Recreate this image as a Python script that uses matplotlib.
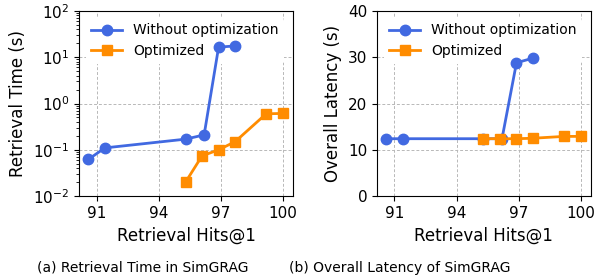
import matplotlib.pyplot as plt

# Retrieval Hits@1 values
hits_base = [90.6, 91.4, 95.3, 96.2, 96.9, 97.7]
hits_opt = [95.3, 96.1, 96.9, 97.7, 99.2, 100.0]

# (a) retrieval time in seconds
ret_base = [0.062, 0.11, 0.17, 0.21, 16.5, 17.5]
ret_opt = [0.020, 0.074, 0.10, 0.15, 0.60, 0.61]

# (b) overall latency in seconds
lat_base = [12.4, 12.4, 12.4, 12.4, 28.8, 29.8]
lat_opt = [12.4, 12.4, 12.4, 12.5, 12.9, 12.9]

xticks = [91, 94, 97, 100]
blue = '#4169E1'
orange = '#FF8C00'

fig = plt.figure(figsize=(6.03, 2.79), dpi=100)
ax1 = fig.add_axes([0.131, 0.297, 0.355, 0.664])
ax2 = fig.add_axes([0.625, 0.297, 0.355, 0.664])

for ax, yb, yo in [(ax1, ret_base, ret_opt), (ax2, lat_base, lat_opt)]:
    ax.plot(hits_base, yb, '-o', color=blue, lw=2, ms=7.5, label='Without optimization')
    ax.plot(hits_opt, yo, '-s', color=orange, lw=2, ms=7.5, label='Optimized')
    ax.set_xlim(90.15, 100.5)
    ax.set_xticks(xticks)
    ax.grid(True, ls=(0, (3, 2)), color='#b8b8b8', lw=0.7)
    ax.tick_params(labelsize=11)
    ax.set_xlabel('Retrieval Hits@1', fontsize=12)
    leg = ax.legend(loc='upper left', fontsize=10, frameon=True, framealpha=1,
                    edgecolor='none', handlelength=2.2)
    leg.set_zorder(1.8)  # above grid, below the lines

ax1.set_yscale('log')
ax1.set_ylim(0.01, 100)
ax1.set_ylabel('Retrieval Time (s)', fontsize=12)

ax2.set_ylim(0, 40)
ax2.set_yticks([0, 10, 20, 30, 40])
ax2.set_ylabel('Overall Latency (s)', fontsize=12)

fig.text(0.237, 0.04, '(a) Retrieval Time in SimGRAG', ha='center', va='center', fontsize=10)
fig.text(0.663, 0.04, '(b) Overall Latency of SimGRAG', ha='center', va='center', fontsize=10)

fig.savefig('out.png', dpi=100)
